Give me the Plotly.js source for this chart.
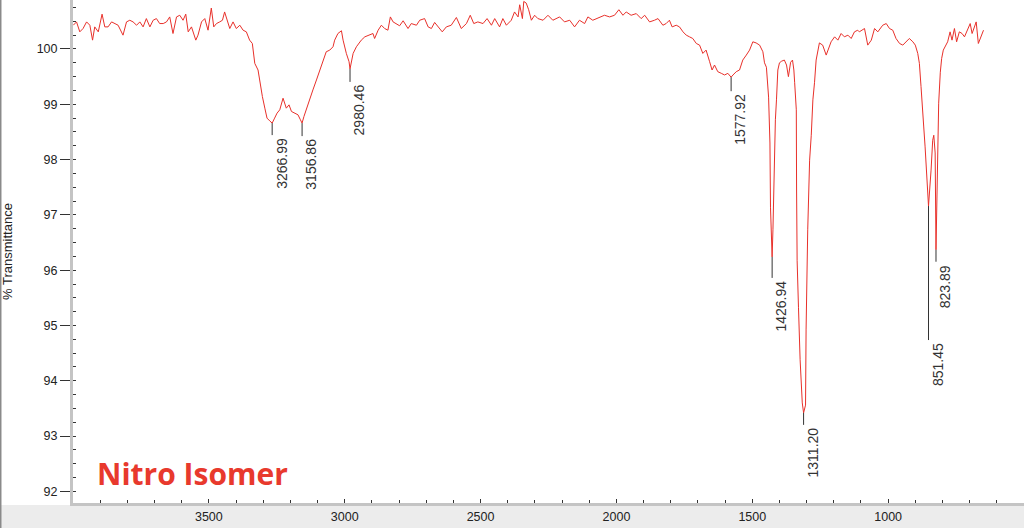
<!DOCTYPE html>
<html><head><meta charset="utf-8">
<script src="https://cdn.plot.ly/plotly-3.0.1.min.js"></script>
<style>html,body{margin:0;padding:0;background:#fff;overflow:hidden}#chart{width:1024px;height:528px}</style>
</head><body><div id="chart"></div>
<script>
// ---- data (wavenumber in cm-1, % transmittance) ----
const wavenumber = [
3999,3987,3975,3963,3950,3938,3928,3920,3907,3893,3883,3871,3858,3846,3834,3816,3803,3791,3779,3766,
3754,3742,3730,3717,3705,3693,3681,3668,3656,3644,3632,3619,3607,3595,3585,3576,3564,3548,3540,3527,
3515,3503,3491,3482,3472,3460,3450,3442,3433,3423,3411,3399,3386,3374,3362,3350,3340,3331,3319,3310,
3303,3294,3286,3276,3267,3258,3249,3239,3227,3215,3205,3196,3184,3172,3163,3157,3150,3141,3129,3117,
3104,3092,3080,3068,3055,3043,
3037,3025,3012,3006,2994,2984,2980.5,2969,2957,2939,2926,2908,2896,2890,2877,2865,2853,2841,2832,2822,
2810,2798,2785,2767,2755,2736,2724,2706,2693,2681,2669,2657,2641,2626,2608,2589,2571,2552,2538,2525,
2510,2491,2476,2460,2448,2430,2418,2405,2387,2375,2362,2356,2346,2341,2332,2323,2313,2301,2289,2270,
2252,2234,2209,2191,2172,2154,2136,2117,2105,2087,2062,2044,2025,2007,1991,1976,1964,1946,1927,1909,
1896,1878,1860,1847,
1829,1817,1805,1795,1780,1768,1755,1743,1731,1719,1706,1694,1682,1670,1657,1648,1639,1627,1614,1602,
1590,1578,1571,1559,1547,1535,1522,1510,1498,1486,1473,1461,1455,1448,1440,1435,1433,1427,1424,1420,
1415,1411,1406,1400,1392,1382,1374,1367,1359,1352,1347,1344,1338,1337,1335,1330,1324,1316,1311.2,1304,
1302,1296,1289,1283,1277,1271,1265,1253,1241,1228,1222,1210,1197,1185,1173,1161,1148,1136,1124,1112,
1106,1087,1075,1062,1050,1038,
1020,1007,995,983,971,958,946,934,922,909,900,891,885,879,873,869,864,860,854,851.45,
842,836,832,827,823.89,818,814,808,803,797,790,781,772,765,756,748,738,728,719,711,
698,691,676,668,658,649
];
const transmittance = [
100.43,100.49,100.31,100.37,100.49,100.43,100.16,100.40,100.31,100.63,100.40,100.40,100.49,100.46,100.43,100.25,100.49,100.52,100.49,100.43,
100.49,100.40,100.55,100.40,100.52,100.55,100.46,100.46,100.49,100.58,100.28,100.58,100.61,100.52,100.63,100.31,100.40,100.16,100.25,100.49,
100.55,100.34,100.74,100.40,100.46,100.49,100.52,100.67,100.52,100.37,100.49,100.37,100.43,100.34,100.31,100.16,100.10,99.74,99.62,99.32,
99.14,98.93,98.75,98.70,98.66,98.75,98.84,98.90,99.11,98.93,98.99,98.87,98.84,98.81,98.72,98.66,98.78,98.90,99.08,99.26,
99.44,99.62,99.77,99.95,99.98,100.04,
100.16,100.28,100.33,100.16,99.92,99.77,99.64,99.92,100.04,100.16,100.22,100.25,100.28,100.19,100.34,100.43,100.37,100.34,100.58,100.49,
100.46,100.42,100.51,100.37,100.46,100.43,100.52,100.55,100.40,100.37,100.48,100.40,100.31,100.40,100.43,100.57,100.37,100.46,100.61,100.46,
100.49,100.46,100.55,100.43,100.55,100.40,100.55,100.43,100.52,100.67,100.58,100.80,100.55,100.86,100.83,100.71,100.52,100.61,100.55,100.52,
100.61,100.52,100.58,100.49,100.52,100.40,100.52,100.46,100.58,100.52,100.58,100.61,100.58,100.61,100.71,100.61,100.67,100.61,100.64,100.55,
100.61,100.49,100.52,100.55,
100.43,100.46,100.52,100.40,100.43,100.40,100.31,100.25,100.22,100.19,100.10,100.07,99.92,99.98,99.77,99.62,99.71,99.59,99.56,99.53,
99.56,99.49,99.53,99.59,99.62,99.80,99.89,99.98,100.13,100.11,100.07,99.95,99.75,99.67,99.13,98.30,97.14,96.24,96.73,97.81,
98.72,99.08,99.62,99.75,99.78,99.80,99.71,99.50,99.76,99.80,99.62,99.39,98.90,97.45,96.18,95.33,94.38,93.60,93.42,93.56,
94.92,96.73,97.99,98.44,99.08,99.39,99.80,100.11,100.07,99.89,99.98,100.13,100.22,100.16,100.28,100.22,100.25,100.19,100.31,100.34,
100.31,100.37,100.07,100.16,100.37,100.31,
100.43,100.46,100.37,100.34,100.19,100.10,100.07,100.13,100.19,100.13,100.07,99.92,99.74,99.32,98.96,98.59,98.23,97.81,97.39,97.16,
97.81,98.35,98.44,98.12,96.37,97.87,99.02,99.58,99.83,99.98,100.04,100.13,100.31,100.16,100.37,100.13,100.31,100.28,100.22,100.31,
100.46,100.28,100.49,100.10,100.22,100.34
];
const peakWavenumber = [3266.99, 3156.86, 2980.46, 1577.92, 1426.94, 1311.20, 851.45, 823.89];
const peakTransmittance = [98.66, 98.66, 99.64, 99.49, 96.24, 93.42, 97.16, 96.37];
const peakLabels = peakWavenumber.map(v => v.toFixed(2));
const xTickVals = [3500, 3000, 2500, 2000, 1500, 1000];
const yTickVals = [92, 93, 94, 95, 96, 97, 98, 99, 100];
const chartTitle = 'Nitro Isomer';
const yAxisTitle = '% Transmittance';

// ---- style ----
const leaderLenPx = [12, 13, 13, 14, 21, 12, 134, 12];
const lineRed = '#e8302a';
const tickFont = {family: 'Liberation Sans, Arial, sans-serif', size: 12.5, color: '#222'};

const trace = {
  x: wavenumber, y: transmittance, type: 'scatter', mode: 'lines',
  line: {color: lineRed, width: 1, shape: 'linear'}, hoverinfo: 'x+y'
};

const shapes = [
  {type: 'rect', xref: 'paper', yref: 'paper', x0: -0.1, x1: 1.1, y0: -0.2, y1: -0.004,
   fillcolor: '#ececec', line: {width: 0}, layer: 'below'},
  {type: 'rect', xref: 'paper', yref: 'paper', x0: -0.0768, x1: -0.0752, y0: -0.2, y1: 1.1,
   fillcolor: '#8a8a8a', line: {width: 0}, layer: 'below'}
];
const annotations = [];
peakWavenumber.forEach((w, i) => {
  shapes.push({type: 'line', xref: 'x', yref: 'y', ysizemode: 'pixel', yanchor: peakTransmittance[i],
    x0: w, x1: w, y0: 0, y1: -leaderLenPx[i], line: {color: '#333', width: 1}});
  annotations.push({x: w, y: peakTransmittance[i], xref: 'x', yref: 'y', text: peakLabels[i],
    showarrow: false, textangle: -90, xanchor: 'center', yanchor: 'top',
    xshift: 9, yshift: -(leaderLenPx[i] + 1),
    font: {family: 'Liberation Sans, Arial, sans-serif', size: 14, color: '#333'}});
});
annotations.push({xref: 'paper', yref: 'paper', x: 0.0231, y: 0.058, xanchor: 'left', yanchor: 'middle',
  text: '<b>' + chartTitle + '</b>', showarrow: false,
  font: {family: 'Open Sans, sans-serif', size: 30, color: '#e8392d'}});

const layout = {
  width: 1024, height: 528,
  margin: {l: 73, r: 0, t: 0, b: 25, pad: 0},
  paper_bgcolor: '#ffffff', plot_bgcolor: '#ffffff',
  showlegend: false,
  xaxis: {
    range: [4000, 500], tickvals: xTickVals, ticktext: xTickVals.map(String),
    showgrid: false, zeroline: false, showline: true, linecolor: '#c4c4c4', linewidth: 3,
    ticks: 'inside', ticklen: 4, tickcolor: '#333', tickwidth: 1,
    minor: {dtick: 100, tick0: 0, ticks: 'inside', ticklen: 3, tickcolor: '#333', showgrid: false},
    tickfont: tickFont
  },
  yaxis: {
    range: [91.79, 100.886], tickvals: yTickVals, ticktext: yTickVals.map(String),
    showgrid: false, zeroline: false, showline: true, linecolor: '#c4c4c4', linewidth: 3,
    ticks: 'outside', ticklen: 10, tickcolor: '#333', tickwidth: 1,
    minor: {dtick: 0.25, tick0: 0, ticks: 'inside', ticklen: 3, tickcolor: '#333', showgrid: false},
    tickfont: tickFont,
    title: {text: yAxisTitle, font: {family: 'Liberation Sans, Arial, sans-serif', size: 13, color: '#222'}, standoff: 22}
  },
  shapes: shapes,
  annotations: annotations
};
Plotly.newPlot('chart', [trace], layout, {displayModeBar: false, staticPlot: true});
</script>
</body></html>
